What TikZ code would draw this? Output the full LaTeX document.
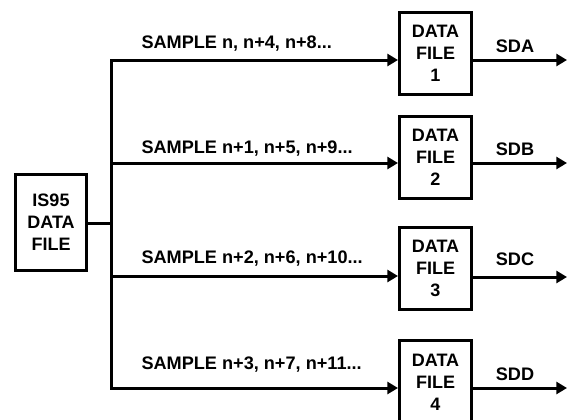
\documentclass[tikz,border=0pt]{standalone}
\usepackage{fontspec}
\setmainfont{Liberation Sans}
\usetikzlibrary{arrows.meta,positioning}

\tikzset{
    filebox/.style={draw, line width=2.25pt, minimum width=54pt, minimum height=62pt,
        align=center, inner sep=0pt, font=\bfseries\fontsize{13.5}{16.5}\selectfont},
    srcbox/.style={filebox, minimum width=53pt, minimum height=72pt},
    lbl/.style={inner sep=0pt, font=\bfseries\fontsize{13.6}{15}\selectfont}
}

\begin{document}
\begin{tikzpicture}[x=0.75pt, y=-0.75pt, line width=2.25pt,
    >={Triangle[length=8pt,width=9pt]}]
    \useasboundingbox (0,0) rectangle (572,419);

    % Source file and the four data files
    \node[srcbox] (src) at (51,222.5) {IS95\\DATA\\FILE};
    \node[filebox] (f1) at (435.5,53.5) {DATA\\FILE\\1};
    \node[filebox] (f2) at (435.5,157.5) {DATA\\FILE\\2};
    \node[filebox] (f3) at (435.5,268.5) {DATA\\FILE\\3};
    \node[filebox] (f4) at (435.5,382) {DATA\\FILE\\4};

    % Splitter bus
    \coordinate (bus) at (111,223);
    \coordinate (b1) at (111,60);
    \coordinate (b2) at (111,163);
    \coordinate (b3) at (111,276);
    \coordinate (b4) at (111,388);
    \draw (src.east |- bus) -- (bus);
    \draw[<->, line join=miter] (b1 -| f1.west) -- (b1) -- (b4) -- (b4 -| f4.west);
    \draw[->] (b2) -- (b2 -| f2.west);
    \draw[->] (b3) -- (b3 -| f3.west);

    % Sample labels
    \node[lbl, anchor=base west] (s1) at (140,48) {SAMPLE n, n+4, n+8...};
    \node[lbl, anchor=base west] (s2) at (140,153) {SAMPLE n+1, n+5, n+9...};
    \node[lbl, anchor=base west] (s3) at (140,263) {SAMPLE n+2, n+6, n+10...};
    \node[lbl, anchor=base west] (s4) at (140,369) {SAMPLE n+3, n+7, n+11...};

    % Outputs
    \coordinate (o1) at (567,60);
    \coordinate (o2) at (567,163);
    \coordinate (o3) at (567,277);
    \coordinate (o4) at (567,388);
    \draw[->] (f1.east |- o1) -- (o1);
    \draw[->] (f2.east |- o2) -- (o2);
    \draw[->] (f3.east |- o3) -- (o3);
    \draw[->] (f4.east |- o4) -- (o4);
    \node[lbl, anchor=base] (sda) at (515,52) {SDA};
    \node[lbl, anchor=base] (sdb) at (515,155) {SDB};
    \node[lbl, anchor=base] (sdc) at (515,265) {SDC};
    \node[lbl, anchor=base] (sdd) at (515,380) {SDD};
\end{tikzpicture}
\end{document}
